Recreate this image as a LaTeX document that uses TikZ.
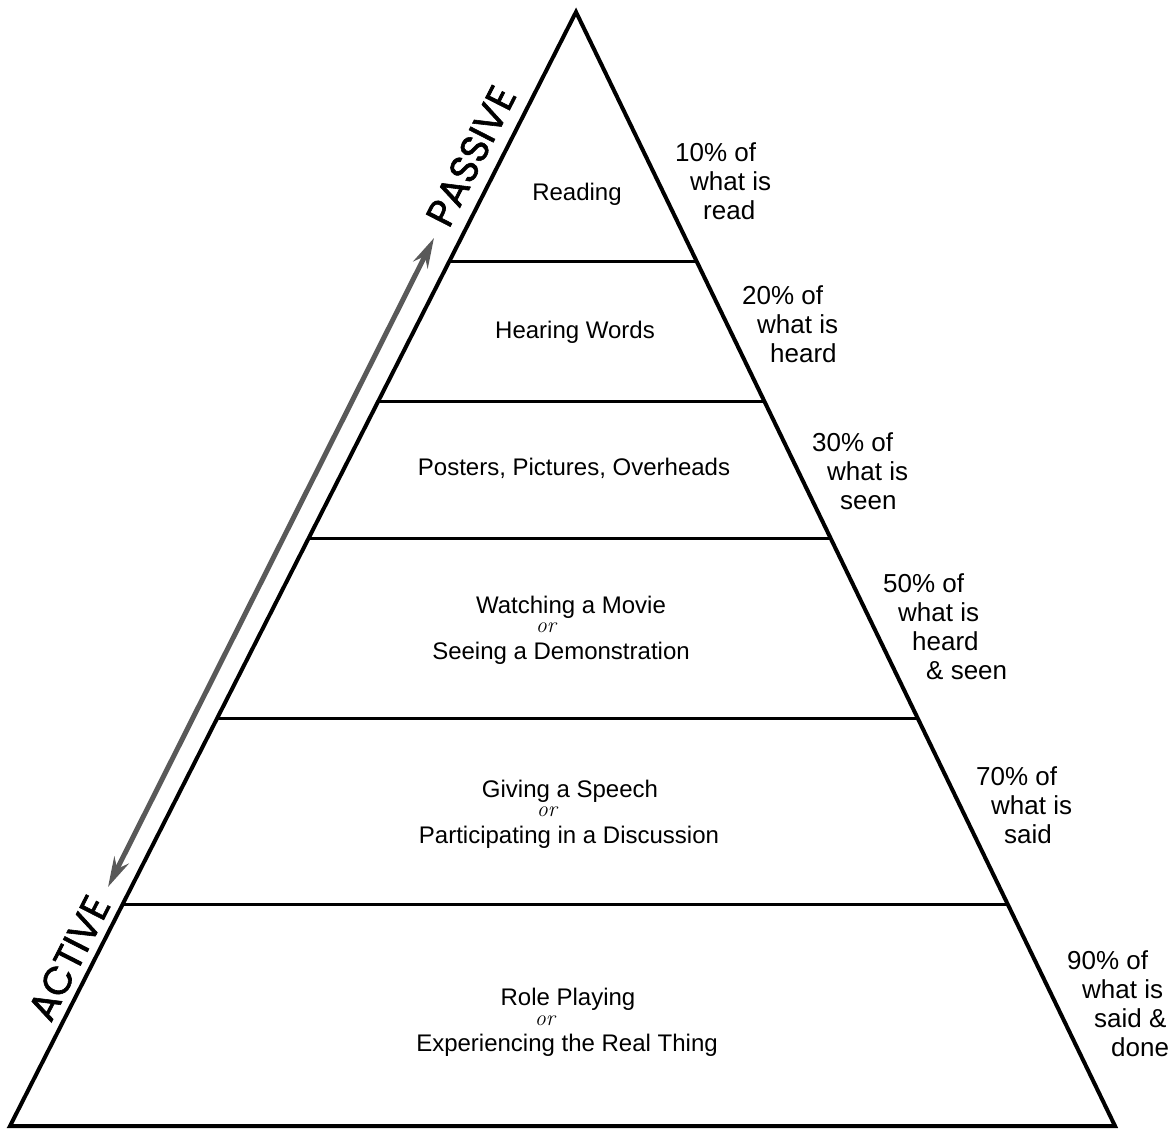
\documentclass[tikz,border=0pt]{standalone}
\usepackage{fontspec}
\newfontfamily\plainsans{Liberation Sans}
\newfontfamily\gothic[FakeBold=1.5]{Poppins}
\usetikzlibrary{arrows.meta,calc}
\tikzset{
    outline/.style={line width=4pt, line join=miter},
    tier/.style={line width=3pt},
    layer/.style={
           font=\plainsans\fontsize{24}{26}\selectfont,
           inner sep=0pt,
           anchor=base,
           },
    orword/.style={font=\itshape\fontsize{22}{22}\selectfont, inner sep=0pt},
    retain/.style={
           font=\plainsans\fontsize{26}{29}\selectfont,
           inner sep=0pt,
           align=left,
           anchor=north west,
           },
    mode/.style={font=\gothic\fontsize{39}{39}\selectfont, rotate=63, inner sep=0pt},
    updown/.style={{Stealth[length=30pt,width=16pt]}-{Stealth[length=30pt,width=16pt]}, line width=5pt, draw=black!65},
}

\begin{document}
\begin{tikzpicture}[x=1pt,y=1pt]
        \useasboundingbox (0,0) rectangle (1174,1128);
        \coordinate (apex) at (576,1116);
        \coordinate (bl) at (10,2);
        \coordinate (br) at (1115,2);
        \draw[outline] (apex) -- (bl) -- (br) -- cycle;

        % level separators
        \foreach \t/\n in {0.7756/1,0.6508/2,0.5278/3,0.3662/4,0.1984/5}{
            \coordinate (l\n) at ($(bl)!\t!(apex)$);
            \coordinate (r\n) at ($(br)!\t!(apex)$);
            \draw[tier] (l\n) -- (r\n);
        }

        \node[layer] (read) at (577,927.5) {Reading};
        \node[layer] (hear) at (575,789.5) {Hearing Words};
        \node[layer] (post) at (574,652.5) {Posters, Pictures, Overheads};
        \node[layer] (movie) at (571,514.5) {Watching a Movie};
        \node[orword] (or1) at (546,500) {or};
        \node[layer] (demo) at (561,468.5) {Seeing a Demonstration};
        \node[layer] (speech) at (570,330.5) {Giving a Speech};
        \node[orword] (or2) at (547,316) {or};
        \node[layer] (disc) at (569,284.5) {Participating in a Discussion};
        \node[layer] (role) at (568,122.5) {Role Playing};
        \node[orword] (or3) at (545,107) {or};
        \node[layer] (real) at (567,76.5) {Experiencing the Real Thing};

        \node[retain] (p10) at (675,986) {10\% of\\\hspace*{15pt}what is\\\hspace*{28pt}read};
        \node[retain] (p20) at (742,843) {20\% of\\\hspace*{15pt}what is\\\hspace*{28pt}heard};
        \node[retain] (p30) at (812,696) {30\% of\\\hspace*{15pt}what is\\\hspace*{28pt}seen};
        \node[retain] (p50) at (883,555) {50\% of\\\hspace*{15pt}what is\\\hspace*{29pt}heard\\\hspace*{43pt}\& seen};
        \node[retain] (p70) at (976,362) {70\% of\\\hspace*{15pt}what is\\\hspace*{28pt}said};
        \node[retain] (p90) at (1067,178) {90\% of\\\hspace*{15pt}what is\\\hspace*{27pt}said \&\\\hspace*{44pt}done};

        \node[mode] (passive) at (471,972) {PASSIVE};
        \node[mode] (active) at (69,170) {ACTIVE};

        \coordinate (up) at (434,890);
        \coordinate (down) at (108,241);
        \draw[updown] (down) -- (up);
    \end{tikzpicture}
\end{document}
